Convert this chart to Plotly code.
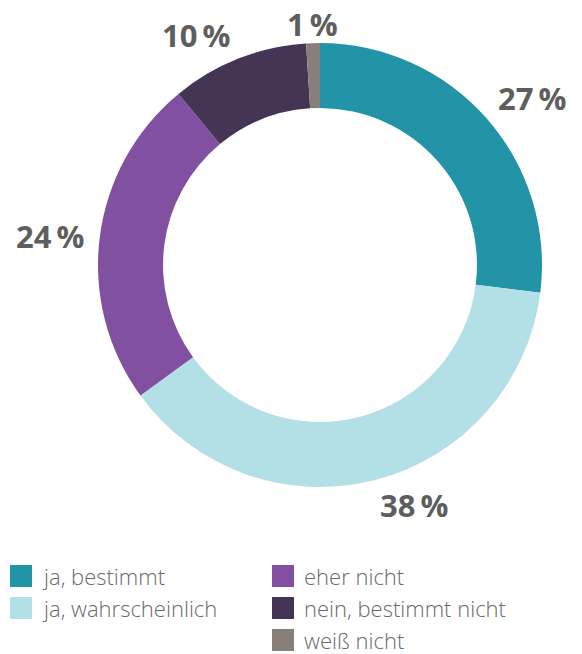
import math
import plotly.graph_objects as go

categories = ["ja, bestimmt", "ja, wahrscheinlich", "eher nicht", "nein, bestimmt nicht", "weiß nicht"]
values = [27, 38, 24, 10, 1]
colors = ["#2394a8", "#b2e0e6", "#8150a0", "#433553", "#877f79"]
legend_cols = [0, 0, 1, 1, 1]
legend_rows = [0, 1, 0, 1, 2]

W, H = 582, 654
CX, CY, R = 320, 265, 222
GAP = 13
LABEL_SIZE = 31
BOX_H = 1.36 * LABEL_SIZE

fig = go.Figure()
fig.add_trace(go.Pie(
    labels=categories, values=values, sort=False, direction="clockwise", rotation=0,
    hole=0.707, marker=dict(colors=colors, line=dict(width=0)),
    textinfo="none", hoverinfo="label+percent", showlegend=False,
    domain=dict(x=[(CX - R) / W, (CX + R) / W], y=[1 - (CY + R) / H, 1 - (CY - R) / H]),
))

annotations = []
shapes = []
total = sum(values)
cum = 0
for v in values:
    mid = (cum + v / 2) / total * 2 * math.pi
    cum += v
    s, c = math.sin(mid), math.cos(mid)
    px = CX + (R + GAP) * s
    py = CY - (R + GAP) * c
    xa = "left" if s > 0.15 else ("right" if s < -0.15 else "center")
    if c > 0.3:
        ya, ys = "bottom", -11
        top = py - ys - BOX_H
        if top < 5:
            ys -= (5 - top)
    elif c < -0.3:
        ya, ys = "top", 11
    else:
        ya, ys = "middle", 0
    annotations.append(dict(
        x=px / W, y=1 - py / H, xref="paper", yref="paper", showarrow=False,
        text=f"{v}\u2009%", xanchor=xa, yanchor=ya, yshift=ys,
        font=dict(family="Open Sans", size=LABEL_SIZE, color="#5e5e5e", weight="bold"),
    ))

col_x = [10, 272]
row_y0 = 576
row_step = 32
sq = 22
for cat, col, colr, row in zip(categories, colors, legend_cols, legend_rows):
    x0 = col_x[colr]
    yc = row_y0 + row * row_step
    shapes.append(dict(type="rect", xref="paper", yref="paper",
                       x0=x0 / W, x1=(x0 + sq) / W,
                       y0=1 - (yc + sq / 2) / H, y1=1 - (yc - sq / 2) / H,
                       fillcolor=col, line=dict(width=0)))
    annotations.append(dict(
        x=(x0 + sq + 8) / W, y=1 - yc / H, xref="paper", yref="paper", showarrow=False,
        text=cat, xanchor="left", yanchor="middle",
        font=dict(family="Open Sans", size=22, color="#6a6a6a", weight=300),
    ))

fig.update_layout(
    width=W, height=H, margin=dict(l=0, r=0, t=0, b=0),
    paper_bgcolor="white", plot_bgcolor="white",
    annotations=annotations, shapes=shapes,
)
fig.write_html("out.html", config={"displayModeBar": False})

with open("out.html", "r", encoding="utf-8") as f:
    html = f.read()
html = html.replace("<body>", '<body style="margin:0;padding:0;overflow:hidden">', 1)
with open("out.html", "w", encoding="utf-8") as f:
    f.write(html)
